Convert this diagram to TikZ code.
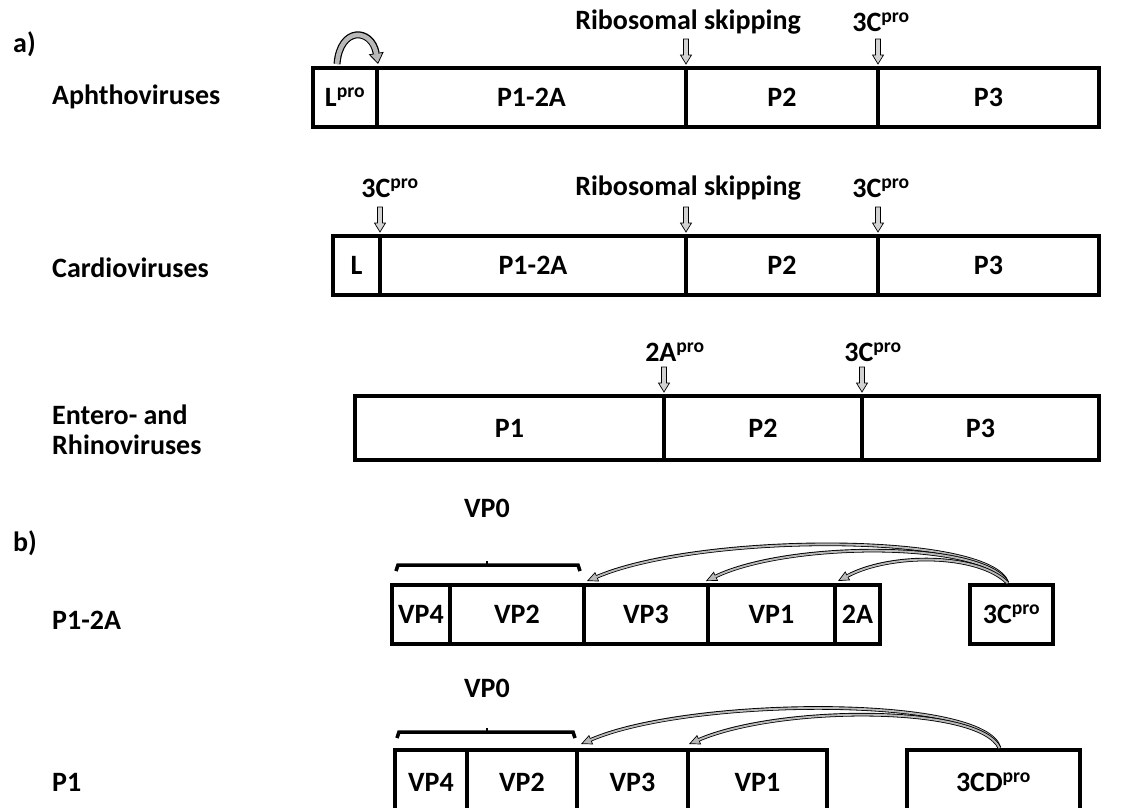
\documentclass[tikz,border=0pt]{standalone}
\usepackage{fontspec}
\setmainfont{Carlito}
\usetikzlibrary{arrows.meta,calc}
\newcommand\seg[6]{\node[seg, minimum width={#3-#2}, minimum height={#5-#4}] (#1) at ({(#2+#3)/2},{(#4+#5)/2}) {#6};}
\newcommand\pro{\textsuperscript{pro}}
\tikzset{
  seg/.style={draw, line width=4.5pt, inner sep=0pt, outer sep=0pt, fill=white},
  lbl/.style={inner sep=0pt, anchor=west, align=left},
  cutarr/.pic={\draw[line width=0.7pt, fill=gray!35] (-2.5,-25) -- (2.5,-25) -- (2.5,-9) -- (5.5,-9) -- (0,0) -- (-5.5,-9) -- (-2.5,-9) -- cycle;},
  curvblack/.style={line width=3.6pt, -{Triangle[length=11pt,width=10pt,fill=gray!55,line width=0.7pt]}},
  curvgray/.style={line width=1.9pt, gray!55, shorten >=10pt},
}
\begin{document}
\begin{tikzpicture}[x=1pt,y=-1pt,font=\bfseries\fontsize{28}{30}\selectfont]
\useasboundingbox (0,0) rectangle (1121,807);
\clip (0,0) rectangle (1121,807);
\fill[white] (0,0) rectangle (1121,807);

% ---------- a) ----------
\node[lbl] (la) at (13,44) {a)};
\node[lbl] (aph) at (52,97) {Aphthoviruses};
\node[lbl] (card) at (52,268) {Cardioviruses};
\node[lbl] (ent) at (52,430) {Entero- and\\Rhinoviruses};

% row 1
\seg{a1}{313}{377}{68}{127}{L\pro}
\seg{a2}{377}{686}{68}{127}{P1-2A}
\seg{a3}{686}{878}{68}{127}{P2}
\seg{a4}{878}{1099}{68}{127}{P3}
\node (rs1) at (688,22) {Ribosomal skipping};
\node (c1) at (881,22) {3C\pro};
\pic at ($(a2.north east)+(0,-4)$) {cutarr};
\pic at ($(a3.north east)+(0,-4)$) {cutarr};
% L pro self-cleavage arrow
\draw[line width=7pt, -{Triangle[length=11pt,width=15pt,fill=gray!55,line width=0.8pt]}]
  ($(a1.north)+(-8,-4)$) .. controls (340,26) and (372,28) .. ($(a1.north east)+(1,-4)$);
\draw[line width=4.6pt, gray!55, shorten >=10pt]
  ($(a1.north)+(-8,-4)$) .. controls (340,26) and (372,28) .. ($(a1.north east)+(1,-4)$);

% row 2
\seg{b1}{333}{380}{236}{295}{L}
\seg{b2}{380}{686}{236}{295}{P1-2A}
\seg{b3}{686}{878}{236}{295}{P2}
\seg{b4}{878}{1099}{236}{295}{P3}
\node (c2l) at (390,188) {3C\pro};
\node (rs2) at (688,188) {Ribosomal skipping};
\node (c2r) at (881,188) {3C\pro};
\pic at ($(b1.north east)+(0,-4)$) {cutarr};
\pic at ($(b2.north east)+(0,-4)$) {cutarr};
\pic at ($(b3.north east)+(0,-4)$) {cutarr};

% row 3
\seg{e1}{355}{664}{396}{460}{P1}
\seg{e2}{664}{862}{396}{460}{P2}
\seg{e3}{862}{1099}{396}{460}{P3}
\node (a2p) at (675,352) {2A\pro};
\node (c3p) at (873,352) {3C\pro};
\pic at ($(e1.north east)+(0,-4)$) {cutarr};
\pic at ($(e2.north east)+(0,-4)$) {cutarr};

% ---------- b) ----------
\node[lbl] (lb) at (13,543) {b)};
\node[lbl] (p12a) at (52,620) {P1-2A};
\node[lbl] (p1) at (52,782) {P1};

% row b1
\seg{v4}{392}{450}{585}{644}{VP4}
\seg{v2}{450}{584}{585}{644}{VP2}
\seg{v3}{584}{708}{585}{644}{VP3}
\seg{v1}{708}{835}{585}{644}{VP1}
\seg{v2a}{835}{880}{585}{644}{2A}
\seg{c3}{970}{1053}{585}{644}{3C\pro}
\node (vp0a) at (487,508) {VP0};
\draw[line width=3.5pt] ($(v4.north west)+(4,-14)$) -- ($(v4.north west)+(6,-20)$) -- ($(v2.north east)+(-6,-20)$) -- ($(v2.north east)+(-4,-14)$);
\draw[line width=2.5pt] (487,565) -- (487,561);
\coordinate (s1) at ($(c3.north)+(-4,-2)$);
\draw[curvblack] (s1) .. controls (990,532) and (700,533) .. ($(v3.north west)+(3,-4)$);
\draw[curvgray] (s1) .. controls (990,532) and (700,533) .. ($(v3.north west)+(3,-4)$);
\draw[curvblack] (s1) .. controls (985,541) and (790,541) .. ($(v1.north west)+(-2,-4)$);
\draw[curvgray] (s1) .. controls (985,541) and (790,541) .. ($(v1.north west)+(-2,-4)$);
\draw[curvblack] (s1) .. controls (978,553) and (890,553) .. ($(v2a.north west)+(3,-4)$);
\draw[curvgray] (s1) .. controls (978,553) and (890,553) .. ($(v2a.north west)+(3,-4)$);

% row b2
\seg{w4}{395}{467}{750}{815}{VP4}
\seg{w2}{467}{577}{750}{815}{VP2}
\seg{w3}{577}{688}{750}{815}{VP3}
\seg{w1}{688}{827}{750}{815}{VP1}
\seg{cd}{907}{1080}{750}{815}{3CD\pro}
\node (vp0b) at (487,688) {VP0};
\draw[line width=3.5pt] ($(w4.north west)+(2,-12)$) -- ($(w4.north west)+(4,-18)$) -- ($(w2.north east)+(-4,-18)$) -- ($(w2.north east)+(-2,-12)$);
\draw[line width=2.5pt] (487,732) -- (487,728);
\coordinate (s2) at ($(cd.north)+(6,-2)$);
\draw[curvblack] (s2) .. controls (985,695) and (690,697) .. ($(w3.north west)+(4,-6)$);
\draw[curvgray] (s2) .. controls (985,695) and (690,697) .. ($(w3.north west)+(4,-6)$);
\draw[curvblack] (s2) .. controls (980,705) and (780,705) .. ($(w1.north west)+(1,-6)$);
\draw[curvgray] (s2) .. controls (980,705) and (780,705) .. ($(w1.north west)+(1,-6)$);
\end{tikzpicture}
\end{document}
